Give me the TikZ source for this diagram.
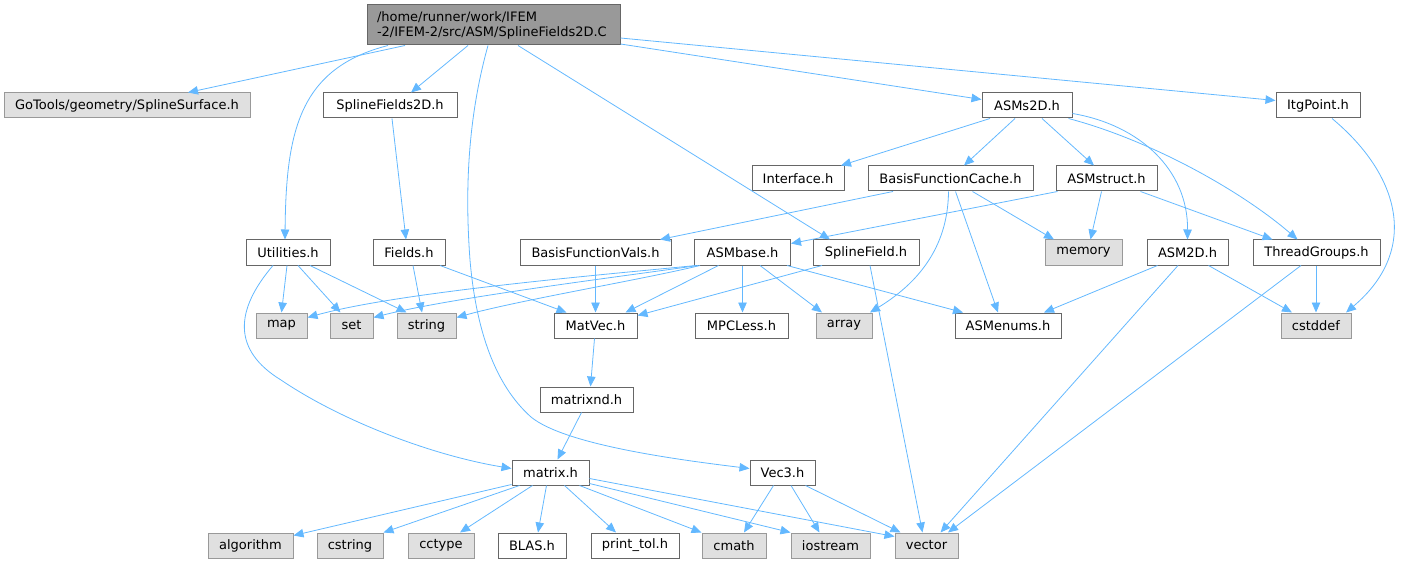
\documentclass[tikz,border=0pt]{standalone}
\usepackage{fontspec}
\setmainfont{DejaVu Sans}
\usetikzlibrary{arrows.meta,calc}
\definecolor{edgec}{HTML}{63B8FF}
\definecolor{wborder}{HTML}{666666}
\definecolor{gborder}{HTML}{999999}
\definecolor{gfill}{HTML}{E0E0E0}
\definecolor{rootfill}{HTML}{999999}
\tikzset{
  base/.style={rectangle, line width=1pt, inner sep=0pt, minimum height=25pt,
    font=\fontsize{13}{15}\selectfont},
  wbox/.style={base, draw=wborder, fill=white},
  gbox/.style={base, draw=gborder, fill=gfill},
  rootbox/.style={rectangle, line width=1pt, draw=wborder, fill=rootfill, inner xsep=10pt,
    inner ysep=0pt, minimum height=40pt, text width=233pt, align=left,
    font=\fontsize{13}{15}\selectfont},
  conn/.style={draw=edgec, line width=0.8pt, -{Triangle[length=10pt,width=8.5pt]}, fill=none},
}
\begin{document}
\begin{tikzpicture}[x=1pt,y=-1pt]
\useasboundingbox (0,0) rectangle (1403,564);
% nodes
\node[rootbox] (root) at (493.5,25) {/home/runner/work/IFEM\\-2/IFEM-2/src/ASM/SplineFields2D.C};
\node[gbox, minimum width=246pt] (gotools) at (127,105.5) {GoTools/geometry/SplineSurface.h};
\node[wbox, minimum width=134pt] (sf2dh) at (390,105.5) {SplineFields2D.h};
\node[wbox, minimum width=90pt] (asms2d) at (1027,105.5) {ASMs2D.h};
\node[wbox, minimum width=84pt] (itgpoint) at (1318,105.5) {ItgPoint.h};
\node[wbox, minimum width=92pt] (interface) at (798,178.5) {Interface.h};
\node[wbox, minimum width=165pt] (bfcache) at (950.5,178.5) {BasisFunctionCache.h};
\node[wbox, minimum width=101pt] (asmstruct) at (1106.5,178.5) {ASMstruct.h};
\node[wbox, minimum width=84pt] (utilities) at (288,252.5) {Utilities.h};
\node[wbox, minimum width=72pt] (fields) at (409,252.5) {Fields.h};
\node[wbox, minimum width=151pt] (bfvals) at (595.5,252.5) {BasisFunctionVals.h};
\node[wbox, minimum width=96pt] (asmbase) at (742.5,252.5) {ASMbase.h};
\node[wbox, minimum width=106pt] (splinefield) at (866,252.5) {SplineField.h};
\node[gbox, minimum width=77pt] (memory) at (1083.5,252.5) {memory};
\node[wbox, minimum width=81pt] (asm2d) at (1187.5,252.5) {ASM2D.h};
\node[wbox, minimum width=127pt] (threadgroups) at (1316.5,252.5) {ThreadGroups.h};
\node[gbox, minimum width=51pt] (map) at (281.5,325.5) {map};
\node[gbox, minimum width=43pt] (set) at (351.5,325.5) {set};
\node[gbox, minimum width=59pt] (string) at (426.5,325.5) {string};
\node[wbox, minimum width=83pt] (matvec) at (595.5,325.5) {MatVec.h};
\node[wbox, minimum width=93pt] (mpcless) at (741.5,325.5) {MPCLess.h};
\node[gbox, minimum width=56pt] (array) at (844,325.5) {array};
\node[wbox, minimum width=106pt] (asmenums) at (1008,325.5) {ASMenums.h};
\node[gbox, minimum width=70pt] (cstddef) at (1316,325.5) {cstddef};
\node[wbox, minimum width=93pt] (matrixnd) at (586.5,399.5) {matrixnd.h};
\node[wbox, minimum width=77pt] (matrix) at (550.5,472.5) {matrix.h};
\node[wbox, minimum width=65pt] (vec3) at (782.5,472.5) {Vec3.h};
\node[gbox, minimum width=85pt] (algorithm) at (250.5,545.5) {algorithm};
\node[gbox, minimum width=66pt] (cstring) at (350,545.5) {cstring};
\node[gbox, minimum width=66pt] (cctype) at (441,545.5) {cctype};
\node[wbox, minimum width=68pt] (blas) at (532,545.5) {BLAS.h};
\node[wbox, minimum width=88pt] (printtol) at (635,545.5) {print\_tol.h};
\node[gbox, minimum width=64pt] (cmath) at (734,545.5) {cmath};
\node[gbox, minimum width=79pt] (iostream) at (830.5,545.5) {iostream};
\node[gbox, minimum width=63pt] (vector) at (926.5,545.5) {vector};
% edges from root
\draw[conn] ($(root.south)+(-88.5,0)$) -- ($(gotools.north)+(61,0)$);
\draw[conn] ($(root.south)+(-105.5,0)$) .. controls (300,68) and (286,130) .. ($(utilities.north)+(-3,0)$);
\draw[conn] ($(root.south)+(-25.5,0)$) -- ($(sf2dh.north)+(21,0)$);
\draw[conn] ($(root.south)+(-5.5,0)$) .. controls (470,110) and (464,180) .. (470,260)
   .. controls (476,330) and (495,385) .. (531,417) .. controls (565,445) and (680,460) .. ($(vec3.west)+(0,-4)$);
\draw[conn] ($(root.south)+(24.5,0)$) -- ($(splinefield.north)+(-36,0)$);
\draw[conn] ($(root.east)+(0,19)$) -- ($(asms2d.west)+(0,-6)$);
\draw[conn] ($(root.east)+(0,13)$) -- ($(itgpoint.west)+(0,-5)$);
% row 1
\draw[conn] ($(sf2dh.south)+(2,0)$) -- ($(fields.north)+(-3,0)$);
\draw[conn] ($(asms2d.south)+(-37,0)$) -- ($(interface.north)+(43,0)$);
\draw[conn] ($(asms2d.south)+(-12,0)$) -- ($(bfcache.north)+(13.5,0)$);
\draw[conn] ($(asms2d.south)+(15,0)$) -- ($(asmstruct.north)+(-12.5,0)$);
\draw[conn] ($(asms2d.east)+(0,8)$) .. controls (1140,125) and (1188,170) .. (asm2d.north);
\draw[conn] ($(asms2d.south east)+(-4,0)$) .. controls (1150,140) and (1240,190) .. ($(threadgroups.north)+(-19,0)$);
\draw[conn] ($(itgpoint.south)+(14,0)$) .. controls (1400,175) and (1420,250) .. ($(cstddef.north)+(30,0)$);
% row 2
\draw[conn] ($(bfcache.south)+(-57.5,0)$) -- ($(bfvals.north)+(64.5,0)$);
\draw[conn] ($(bfcache.south)+(-2,0)$) .. controls (948,250) and (915,285) .. ($(array.north)+(26,0)$);
\draw[conn] ($(bfcache.south)+(5,0)$) -- ($(asmenums.north)+(-10,0)$);
\draw[conn] ($(bfcache.south)+(22,0)$) -- ($(memory.north)+(-29.5,0)$);
\draw[conn] ($(asmstruct.south west)+(2,0)$) -- ($(asmbase.north east)+(0,4)$);
\draw[conn] ($(asmstruct.south)+(-5,0)$) -- ($(memory.north)+(7,0)$);
\draw[conn] ($(asmstruct.south)+(34,0)$) -- ($(threadgroups.north)+(-44,0)$);
% row 3
\draw[conn] ($(utilities.south)+(-1,0)$) -- (map.north);
\draw[conn] ($(utilities.south)+(10,0)$) -- ($(set.north)+(-11,0)$);
\draw[conn] ($(utilities.south)+(22,0)$) -- ($(string.north)+(-20,0)$);
\draw[conn] ($(utilities.south)+(-15,0)$) .. controls (235,310) and (232,350) .. (281,380)
   .. controls (340,420) and (430,455) .. ($(matrix.west)+(0,-4)$);
\draw[conn] ($(fields.south)+(4,0)$) -- ($(string.north)+(-4.5,0)$);
\draw[conn] ($(fields.south)+(31,0)$) -- ($(matvec.north)+(-29,0)$);
\draw[conn] (bfvals.south) -- (matvec.north);
\draw[conn] ($(asmbase.south west)+(2,0)$) .. controls (600,275) and (400,292) .. ($(map.east)+(0,-8)$);
\draw[conn] ($(asmbase.south west)+(4,0)$) .. controls (610,278) and (450,298) .. ($(set.east)+(0,-8)$);
\draw[conn] ($(asmbase.south west)+(6,0)$) .. controls (640,280) and (520,300) .. ($(string.east)+(0,-8)$);
\draw[conn] ($(asmbase.south)+(-24,0)$) -- ($(matvec.north)+(30,0)$);
\draw[conn] (asmbase.south) -- ($(mpcless.north)+(1,0)$);
\draw[conn] ($(asmbase.south)+(17.5,0)$) -- ($(array.north)+(-22,0)$);
\draw[conn] ($(asmbase.south)+(44.5,0)$) -- ($(asmenums.north)+(-45,0)$);
\draw[conn] ($(splinefield.south)+(-44,0)$) -- ($(matvec.north east)+(0,3)$);
\draw[conn] ($(splinefield.south)+(4,0)$) -- ($(vector.north)+(-4,0)$);
\draw[conn] ($(asm2d.south)+(-30,0)$) -- ($(asmenums.north)+(36,0)$);
\draw[conn] ($(asm2d.south)+(21,0)$) -- ($(cstddef.north)+(-24,0)$);
\draw[conn] ($(asm2d.south)+(-9.5,0)$) -- ($(vector.north)+(14,0)$);
\draw[conn] ($(threadgroups.south)+(-0.5,0)$) -- (cstddef.north);
\draw[conn] ($(threadgroups.south)+(-15.5,0)$) -- ($(vector.north)+(21.5,0)$);
% rows 4-6
\draw[conn] ($(matvec.south)+(-1,0)$) -- ($(matrixnd.north)+(4,0)$);
\draw[conn] ($(matrixnd.south)+(-5,0)$) -- ($(matrix.north)+(7,0)$);
\draw[conn] ($(matrix.south west)+(0,-1)$) -- ($(algorithm.north east)+(0,3)$);
\draw[conn] ($(matrix.south)+(-31,0)$) -- (cstring.north east);
\draw[conn] ($(matrix.south)+(-18,0)$) -- ($(cctype.north)+(19,0)$);
\draw[conn] ($(matrix.south)+(-4,0)$) -- ($(blas.north)+(6,0)$);
\draw[conn] ($(matrix.south)+(14,0)$) -- ($(printtol.north)+(-19,0)$);
\draw[conn] ($(matrix.south)+(29,0)$) -- (cmath.north west);
\draw[conn] ($(matrix.south east)+(0,-2)$) -- (iostream.north west);
\draw[conn] ($(matrix.east)+(0,6)$) -- ($(vector.west)+(0,-9)$);
\draw[conn] ($(vec3.south)+(-9,0)$) -- ($(cmath.north)+(10,0)$);
\draw[conn] ($(vec3.south)+(8.5,0)$) -- ($(iostream.north)+(-11,0)$);
\draw[conn] ($(vec3.south)+(23,0)$) -- ($(vector.north west)+(6,0)$);
\end{tikzpicture}
\end{document}
